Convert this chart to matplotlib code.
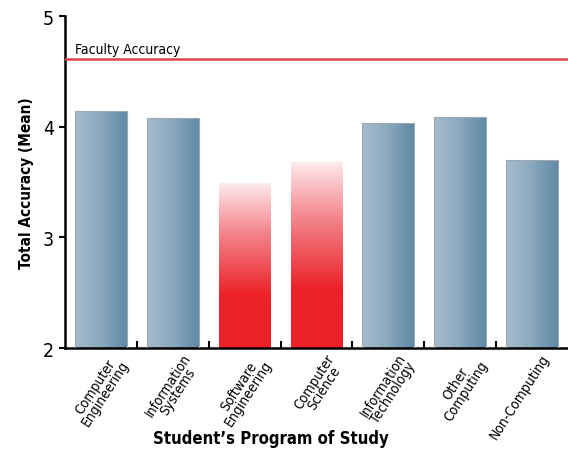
import numpy as np
import matplotlib.pyplot as plt
from matplotlib import rcParams
from matplotlib.colors import LinearSegmentedColormap

rcParams['font.family'] = ['DejaVu Sans']
rcParams['font.stretch'] = 'condensed'

programs = ['Computer\nEngineering', 'Information\nSystems', 'Software\nEngineering',
            'Computer\nScience', 'Information\nTechnology', 'Other\nComputing', 'Non-Computing']
accuracy = [4.14, 4.08, 3.49, 3.68, 4.03, 4.09, 3.70]
highlight = [False, False, True, True, False, False, False]
faculty_accuracy = 4.61

blue_cmap = LinearSegmentedColormap.from_list('bl', ['#a6bccd', '#8aa7bd', '#5f8aa6'])
red_cmap = LinearSegmentedColormap.from_list('rd', [(0, '#fdeaec'), (0.3, '#f4858c'),
                                                    (0.68, '#ec2228'), (1, '#ec2228')])

fig = plt.figure(figsize=(5.68, 4.56), dpi=100)
ax = fig.add_axes([0.1144, 0.2346, 0.8856, 0.7281])

x = np.arange(len(programs))
bars = ax.bar(x, accuracy, bottom=0, width=0.72, color='none', edgecolor='none')
for b, val, hl in zip(bars, accuracy, highlight):
    x0 = b.get_x()
    w = b.get_width()
    if hl:
        grad = np.linspace(0, 1, 256).reshape(-1, 1)
        im = ax.imshow(grad, cmap=red_cmap, aspect='auto', origin='upper',
                       extent=[x0, x0 + w, 2, val], zorder=2)
    else:
        grad = np.linspace(0, 1, 256).reshape(1, -1)
        im = ax.imshow(grad, cmap=blue_cmap, aspect='auto',
                       extent=[x0, x0 + w, 2, val], zorder=2)
        b.set_edgecolor('#9aa9b4')
        b.set_linewidth(0.8)
        b.set_zorder(3)
    im.set_clip_path(b)

ax.axhline(faculty_accuracy, color='#e0414a', lw=1.8, zorder=4)
ax.text(0.02, faculty_accuracy + 0.03, 'Faculty Accuracy', transform=ax.get_yaxis_transform(),
        fontsize=10, ha='left', va='bottom')

ax.set_xlim(-0.5, len(programs) - 0.5)
ax.set_ylim(2, 5)
ax.set_yticks([2, 3, 4, 5])
ax.set_yticklabels(['2', '3', '4', '5'], fontsize=14)
ax.tick_params(axis='y', direction='out', length=4, width=1.5, pad=4)

ax.set_xticks(x + 0.12)
ax.set_xticklabels(programs, rotation=57, ha='right', rotation_mode='anchor',
                   fontsize=10, linespacing=0.82, multialignment='center')
ax.tick_params(axis='x', length=0, pad=2)
ax.set_xticks(x[:-1] + 0.5, minor=True)
ax.tick_params(axis='x', which='minor', direction='in', length=5, width=1.5)

for s in ['top', 'right']:
    ax.spines[s].set_visible(False)
ax.spines['left'].set_linewidth(1.8)
ax.spines['bottom'].set_linewidth(1.8)

ax.set_ylabel('Total Accuracy (Mean)', fontsize=11, fontweight='bold', labelpad=6)
ax.set_xlabel("Student’s Program of Study", fontsize=12, fontweight='bold')
ax.xaxis.set_label_coords(0.41, -0.272)
ax.xaxis.label.set_va('center')

fig.savefig('out.png', dpi=100)
